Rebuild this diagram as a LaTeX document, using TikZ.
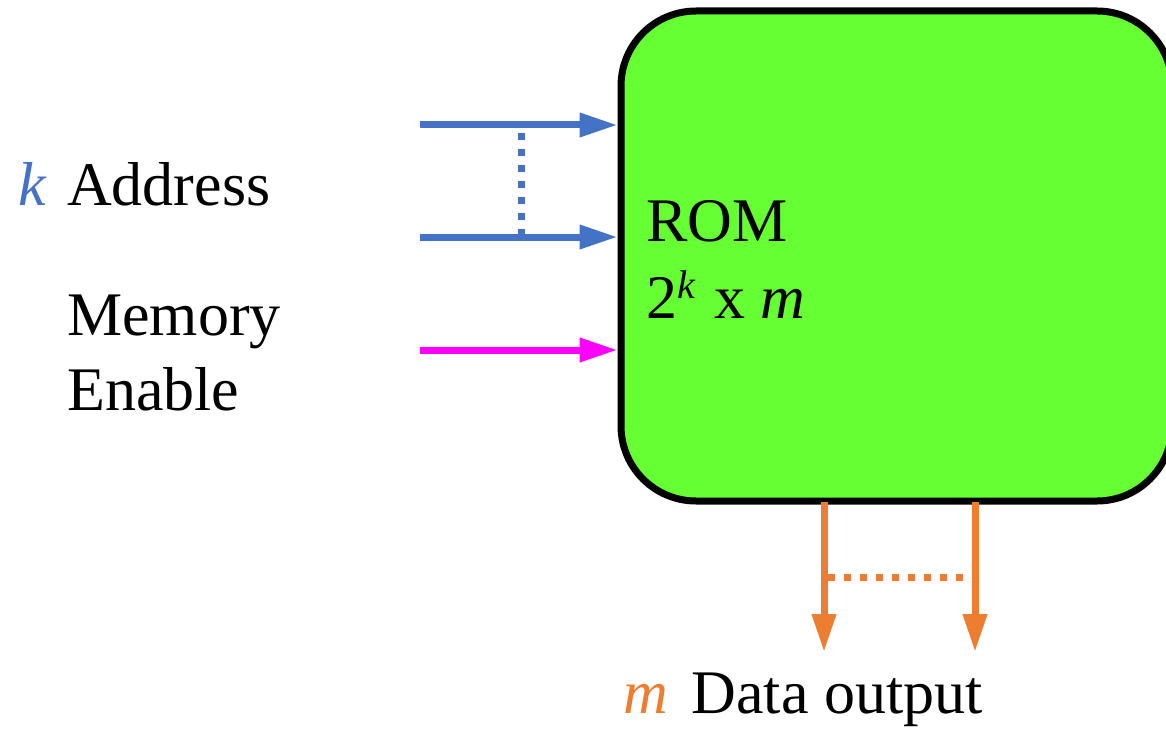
\documentclass[tikz,border=0pt]{standalone}
\usepackage{fontspec}
\setmainfont{Liberation Serif}
\usetikzlibrary{arrows.meta}
\definecolor{busblue}{HTML}{4472C4}
\definecolor{enmag}{HTML}{FF00FF}
\definecolor{outorange}{HTML}{ED7D31}
\definecolor{romgreen}{HTML}{66FF33}
\tikzset{
  lbl/.style={anchor=base west, inner sep=0pt, font=\fontsize{62}{76}\selectfont},
  wire/.style={line width=7pt, -{Triangle[length=38pt,width=23pt]}},
  busdots/.style={line width=7pt, dash pattern=on 7pt off 9pt},
  rombox/.style={draw=black, line width=7pt, fill=romgreen, rounded corners=75pt,
    minimum width=551pt, minimum height=490pt, inner sep=0pt}
}
\begin{document}
\begin{tikzpicture}[x=1pt,y=-1pt]
\useasboundingbox (0,0) rectangle (1166,730);

% memory block (its right side runs past the page edge)
\node[rombox] (rom) at (896.5,256) {};
\node[lbl] (romname) at (646,241) {ROM};
\node[lbl] (romsize) at (646,318)
  {2\raisebox{20pt}{\fontsize{40}{40}\selectfont\itshape k}\hspace{4pt} x \textit{m}};

% inputs
\coordinate (a1) at (420,125);
\coordinate (a2) at (420,237);
\coordinate (en) at (420,350);
\draw[wire, busblue] (a1) -- (a1 -| rom.west);
\draw[wire, busblue] (a2) -- (a2 -| rom.west);
\draw[wire, enmag] (en) -- (en -| rom.west);
\coordinate (b1) at (521,133);
\coordinate (b2) at (521,237);
\draw[busdots, busblue] (b1) -- (b2);

\node[lbl] (kaddr) at (18,205) {\textcolor{busblue}{\itshape k}\hspace{6pt} Address};
\node[lbl] (memen) at (67,335) {Memory};
\node[lbl] (enable) at (67,410) {Enable};

% outputs
\coordinate (o1) at (824,502);
\coordinate (o2) at (975,502);
\coordinate (o1e) at (824,652);
\coordinate (o2e) at (975,652);
\draw[wire, outorange] (o1) -- (o1e);
\draw[wire, outorange] (o2) -- (o2e);
\coordinate (c1) at (828,577);
\coordinate (c2) at (975,577);
\draw[busdots, outorange] (c1) -- (c2);

\node[lbl] (dout) at (623,713) {\textcolor{outorange}{\itshape m}\hspace{8pt} Data output};
\end{tikzpicture}
\end{document}
